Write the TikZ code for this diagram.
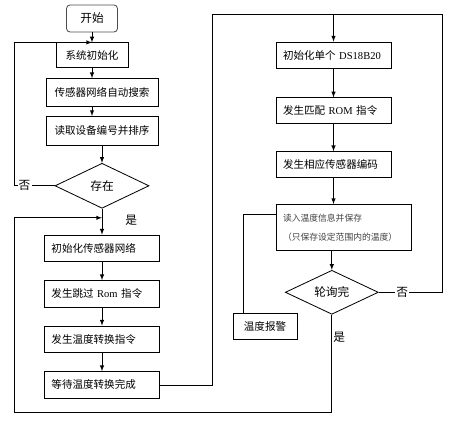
\documentclass[tikz,border=0pt]{standalone}
\usepackage{fontspec}
\setmainfont{Noto Sans CJK SC}
\newfontfamily\lat{Liberation Serif}
\usetikzlibrary{calc,positioning}
\usetikzlibrary{shapes.geometric}

\begin{document}
\begin{tikzpicture}[x=0.03cm, y=-0.03cm, line width=0.7pt,
	start/.style = {draw=black!70, rounded corners=3pt, minimum width=1.53cm, minimum height=0.81cm, font=\fontsize{10}{12}\selectfont},
	box/.style = {draw, minimum height=0.8cm, inner sep=2pt, font=\fontsize{9}{11}\selectfont},
	lbox/.style = {box, text width=3.03cm, inner xsep=0.21cm, align=left},
	rbox/.style = {lbox, text width=3.63cm, minimum height=1.38cm, text=black!75, font=\fontsize{7.5}{16}\selectfont},
	dec/.style = {draw, diamond, aspect=2.1, inner sep=1pt, font=\fontsize{10}{12}\selectfont},
	lab/.style = {font=\fontsize{10}{12}\selectfont, inner sep=1pt}]
		\useasboundingbox (0,0) rectangle (450,421);
		\node[start] (start) at (92,18.5) {开始};
		\node[box, minimum width=2.16cm, minimum height=0.75cm] (init) [below=0.3cm of start] {系统初始化};
		\node[box, minimum width=3.36cm, minimum height=0.84cm] (search) [below=0.3cm of init, xshift=0.3cm] {传感器网络自动搜索};
		\node[box, minimum width=3.36cm, minimum height=0.87cm] (read) [below=0.27cm of search] {读取设备编号并排序};
		\node[dec, minimum width=2.82cm, minimum height=1.35cm] (exist) [below=0.51cm of read] {存在};
		\node[lbox] (netinit) [below=0.78cm of exist] {初始化传感器网络};
		\node[lbox] (skip) [below=0.54cm of netinit] {发生跳过 {\lat Rom} 指令};
		\node[lbox] (conv) [below=0.54cm of skip] {发生温度转换指令};
		\node[lbox] (wait) [below=0.54cm of conv] {等待温度转换完成};
		\node[lbox, minimum height=0.78cm] (single) at (333.5,55) {初始化单个 {\lat DS18B20}};
		\node[lbox, minimum height=0.78cm] (match) [below=0.87cm of single] {发生匹配 {\lat ROM} 指令};
		\node[lbox, minimum height=0.78cm] (code) [below=0.81cm of match] {发生相应传感器编码};
		\node[rbox, below=0.78cm of code.south west, anchor=north west] (readtemp) {读入温度信息并保存\\（只保存设定范围内的温度）};
		\node[dec, minimum width=2.79cm, minimum height=1.32cm] (poll) [below=0.57cm of readtemp, xshift=-0.35cm] {轮询完};
		\node[box, minimum width=1.92cm, minimum height=0.78cm] (alarm) at (265,326) {温度报警};
		\coordinate (tl) at (212,14);
		\coordinate (tr) at (442,14);
		\coordinate (bl) at (14,412);
		\coordinate (j2) at ($(exist.south)!0.35!(netinit.north)$);
		\draw[-latex] (start) -- (init);
		\draw[-latex] (init) -- (init |- search.north);
		\draw[-latex] (init |- search.south) -- (init |- read.north);
		\draw[-latex] (read) -- (exist);
		\draw[-latex] (exist) -- node[lab, pos=0.46, right=0.65cm] {是} (netinit);
		\draw[-latex] (netinit) -- (skip);
		\draw[-latex] (skip) -- (conv);
		\draw[-latex] (conv) -- (wait);
		\draw[-latex] (exist.west) -- node[lab, fill=white, pos=0.74] {否} (exist.west -| bl) |- (init.north);
		\draw[-latex] (poll.south) -- node[lab, pos=0.23, right] {是} (poll.south |- bl) -- (bl) |- (j2);
		\draw (wait.east) -| (tl);
		\draw[-latex] (tl) -| (single.north);
		\draw (poll.east) -- node[lab, fill=white, pos=0.37] {否} (poll.east -| tr) -- (tr) -- (tl);
		\draw[-latex] (single) -- (match);
		\draw[-latex] (match) -- (code);
		\draw[-latex] (code) -- (code |- readtemp.north);
		\draw[-latex] (poll |- readtemp.south) -- (poll);
		\draw ($(readtemp.north west)!0.22!(readtemp.south west)$) -| ($(alarm.north west)!0.16!(alarm.north east)$);
\end{tikzpicture}
\end{document}
